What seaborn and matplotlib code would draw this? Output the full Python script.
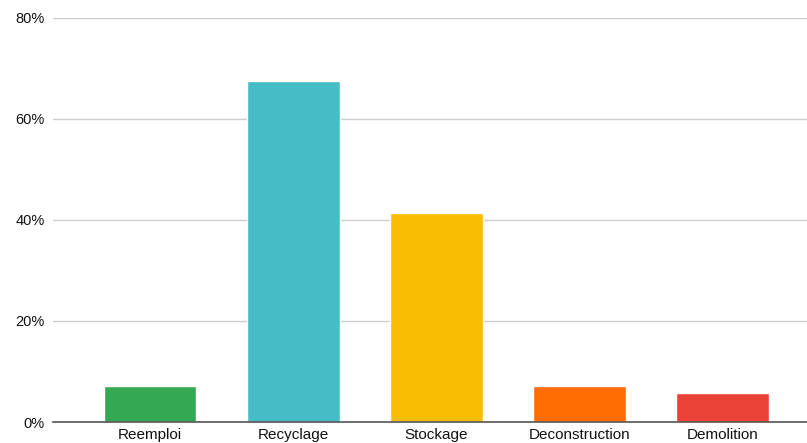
import seaborn as sns
import pandas as pd
import matplotlib.pyplot as plt
from matplotlib.ticker import PercentFormatter

categories = ['Reemploi', 'Recyclage', 'Stockage', 'Deconstruction', 'Demolition']
values = [7.1, 67.6, 41.4, 7.1, 5.7]
colors = ['#34A853', '#46BDC6', '#FBBC04', '#FF6D01', '#EA4335']

df = pd.DataFrame({'cat': categories, 'val': values})

sns.set_style('white')
plt.rcParams['font.family'] = ['Liberation Sans', 'DejaVu Sans']

fig = plt.figure(figsize=(8.07, 4.43), dpi=100)
ax = fig.add_axes([53 / 807, 21 / 443, 754 / 807, 404 / 443])

sns.barplot(data=df, x='cat', y='val', hue='cat', palette=colors, legend=False,
            width=0.645, saturation=1, ax=ax)

ax.set_xlim(-0.68, 4.59)
ax.set_ylim(0, 80)
ax.set_yticks([0, 20, 40, 60, 80])
ax.yaxis.set_major_formatter(PercentFormatter(decimals=0))
ax.grid(axis='y', color='#cccccc', linewidth=1)
ax.set_axisbelow(True)
for s in ['top', 'right', 'left']:
    ax.spines[s].set_visible(False)
ax.spines['bottom'].set_color('#555555')
ax.spines['bottom'].set_linewidth(1.2)
ax.tick_params(axis='both', length=0, labelcolor='#111111')
ax.tick_params(axis='y', pad=6, labelsize=10.5)
ax.tick_params(axis='x', pad=4.5, labelsize=11)
ax.set_xlabel('')
ax.set_ylabel('')

fig.savefig('out.png', dpi=100)
